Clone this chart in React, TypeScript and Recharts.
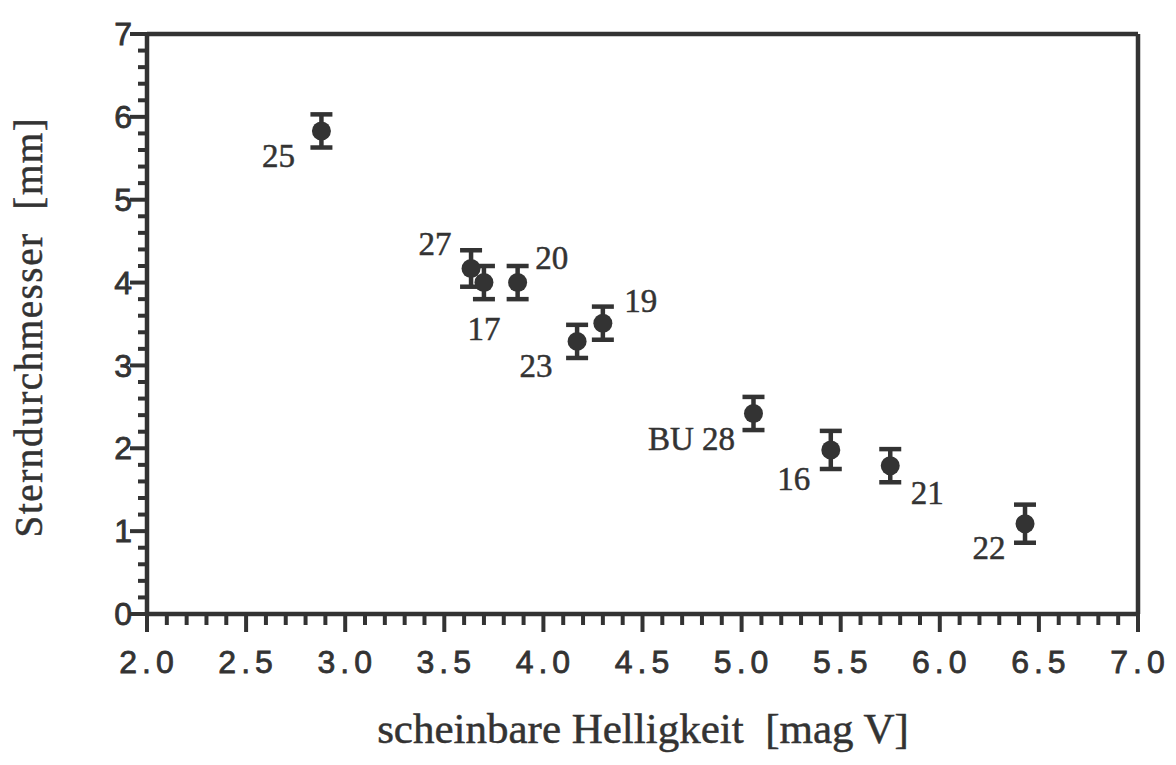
import { ScatterChart, Scatter, XAxis, YAxis, ErrorBar, ReferenceLine, Label } from "recharts"

// Sternnummern, Helligkeit [mag V], Durchmesser [mm], Fehler [mm]
const stars = ["25", "27", "17", "20", "23", "19", "BU 28", "16", "21", "22"]
const mag = [2.88, 3.635, 3.7, 3.87, 4.17, 4.3, 5.06, 5.45, 5.75, 6.43]
const diam = [5.83, 4.17, 4.0, 4.0, 3.29, 3.51, 2.42, 1.98, 1.79, 1.09]
const err = [0.2, 0.22, 0.2, 0.2, 0.2, 0.2, 0.2, 0.23, 0.2, 0.23]

const xMajor = [2.0, 2.5, 3.0, 3.5, 4.0, 4.5, 5.0, 5.5, 6.0, 6.5, 7.0]
const yMajor = [0, 1, 2, 3, 4, 5, 6, 7]
const xTicks = Array.from({ length: 51 }, (_, i) => Math.round((2 + i * 0.1) * 10) / 10)
const yTicks = Array.from({ length: 36 }, (_, i) => Math.round(i * 0.2 * 10) / 10)

// Lage der Beschriftung relativ zum Punkt
const labelPos: Record<string, [number, number]> = {
  "25": [-43, 25], "27": [-36, -25], "17": [0, 46], "20": [34, -25], "23": [-41, 24],
  "19": [38, -23], "BU 28": [-62, 25], "16": [-37, 29], "21": [37, 27], "22": [-36, 24],
}

const data = stars.map((s, i) => ({ name: s, x: mag[i], y: diam[i], err: err[i] }))

const ink = "#333"
const sans = "'Liberation Sans', Arial, sans-serif"
const serif = "'Liberation Serif', 'Times New Roman', serif"

function isMajor(v: number, list: number[]) { return list.some(m => Math.abs(m - v) < 1e-6) }

function XTick(props: any) {
  const { x, y, payload } = props
  const major = isMajor(payload.value, xMajor)
  return (
    <g>
      <line x1={x} x2={x} y1={y} y2={y + (major ? 18 : 11)} stroke={ink} strokeWidth={4} />
      {major && <text x={x + 2} y={y + 48} dy="0.35em" textAnchor="middle" fontFamily={sans} fontSize={32}
        letterSpacing={5} fill={ink} stroke={ink} strokeWidth={0.8}>{payload.value.toFixed(1)}</text>}
    </g>
  )
}

function YTick(props: any) {
  const { x, y, payload } = props
  const major = isMajor(payload.value, yMajor)
  return (
    <g>
      <line x1={x} x2={x - (major ? 17 : 9)} y1={y} y2={y} stroke={ink} strokeWidth={4} />
      {major && <text x={x - 15} y={y} dy="0.35em" textAnchor="end" fontFamily={sans} fontSize={32}
        fill={ink} stroke={ink} strokeWidth={0.8}>{payload.value}</text>}
    </g>
  )
}

function Dot(props: any) {
  const { cx, cy, payload } = props
  const [dx, dy] = labelPos[payload.name] ?? [0, 0]
  return (
    <g>
      <circle cx={cx} cy={cy} r={9.5} fill={ink} />
      <text x={cx + dx} y={cy + dy} dy="0.35em" textAnchor="middle" fontFamily={serif} fontSize={33}
        fill={ink} stroke={ink} strokeWidth={0.5} style={{ whiteSpace: "pre" }}>{payload.name}</text>
    </g>
  )
}

export default function App() {
  return (
    <div style={{ position: "absolute", left: 0, top: 0, background: "#fff" }}>
      <ScatterChart width={1176} height={765} margin={{ top: 34, right: 38, bottom: 0, left: 0 }}>
        <XAxis type="number" dataKey="x" domain={[2, 7]} ticks={xTicks} interval={0} allowDataOverflow
          height={151} tickLine={false} tickSize={0} tickMargin={0} tick={<XTick />}
          axisLine={{ stroke: ink, strokeWidth: 4.5 }}>
          <Label content={() => (
            <text x={643} y={743} textAnchor="middle" fontFamily={serif} fontSize={43} fill={ink}
              stroke={ink} strokeWidth={0.5} style={{ whiteSpace: "pre" }}>
              {"scheinbare Helligkeit  [mag V]"}
            </text>
          )} />
        </XAxis>
        <YAxis type="number" dataKey="y" domain={[0, 7]} ticks={yTicks} interval={0} allowDataOverflow
          width={147} tickLine={false} tickSize={0} tickMargin={0} tick={<YTick />}
          axisLine={{ stroke: ink, strokeWidth: 4.5 }}>
          <Label content={() => (
            <text x={42} y={327} textAnchor="middle" transform="rotate(-90 42 327)" fontFamily={serif}
              fontSize={39} letterSpacing={1.6} fill={ink} stroke={ink} strokeWidth={0.5} style={{ whiteSpace: "pre" }}>
              {"Sterndurchmesser  [mm]"}
            </text>
          )} />
        </YAxis>
        <ReferenceLine y={7} stroke={ink} strokeWidth={4.5} />
        <ReferenceLine x={7} stroke={ink} strokeWidth={4.5} />
        <Scatter data={data} shape={<Dot />} isAnimationActive={false}>
          <ErrorBar dataKey="err" direction="y" width={11} strokeWidth={4.5} stroke={ink} isAnimationActive={false} />
        </Scatter>
      </ScatterChart>
    </div>
  )
}
